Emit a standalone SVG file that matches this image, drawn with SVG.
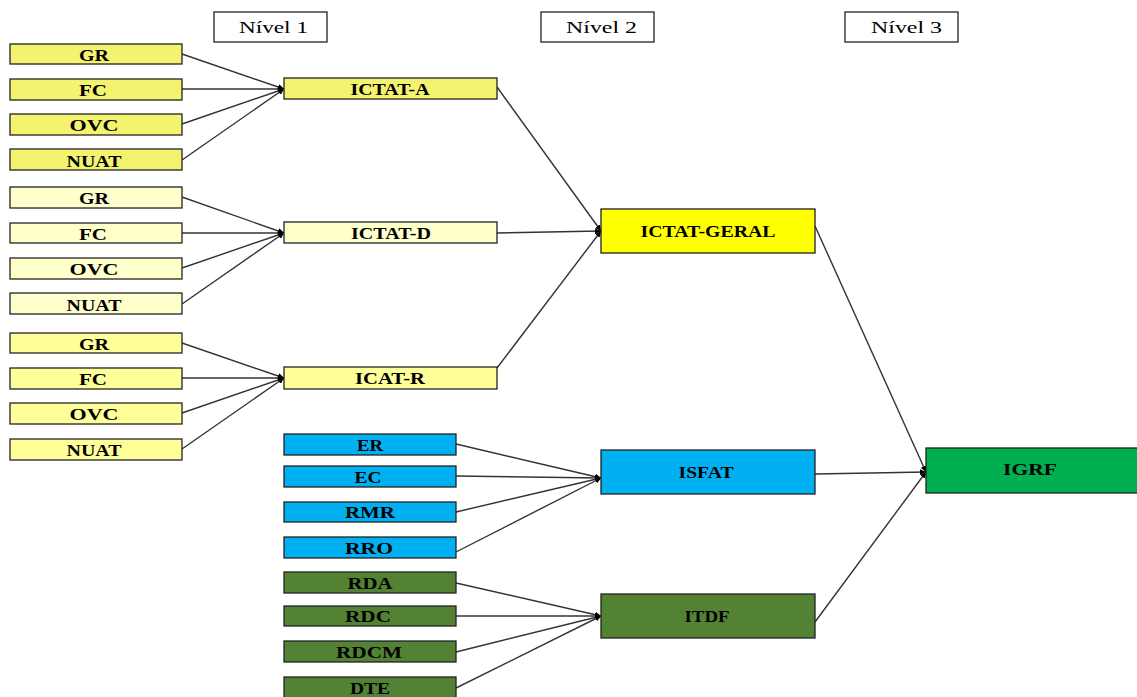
<svg xmlns="http://www.w3.org/2000/svg" width="1137" height="697" viewBox="0 0 1137 697">
<style>
rect{stroke:#222;stroke-width:1.3}
.lvl{fill:#fff}
.lt{font-family:"Liberation Serif",serif;font-size:17px;fill:#000}
.t{font-family:"Liberation Serif",serif;font-weight:bold;font-size:17px;fill:#000;text-anchor:middle;dominant-baseline:central}
.y1{fill:#f3f36f}.y2{fill:#ffffcc}.y3{fill:#ffff99}.yg{fill:#ffff00}
.bl{fill:#00b0f0}.gd{fill:#548235}.gr{fill:#00b050}
#connectors path{fill:none;stroke:#333;stroke-width:1.4;marker-end:url(#a)}
</style>
<defs>
<marker id="a" viewBox="0 0 6 6" refX="6" refY="3" markerWidth="6" markerHeight="6" markerUnits="userSpaceOnUse" orient="auto"><path d="M0,0L6,3L0,6z" fill="#000"/></marker>
</defs>
<g id="connectors">
<path d="M182,54L284,89"/><path d="M182,89L284,89"/><path d="M182,124L284,89"/><path d="M182,160L284,89"/>
<path d="M182,197L284,233"/><path d="M182,233L284,233"/><path d="M182,268L284,233"/><path d="M182,304L284,233"/>
<path d="M182,343L284,378"/><path d="M182,378L284,378"/><path d="M182,413L284,378"/><path d="M182,449L284,378"/>
<path d="M497,87L601,231"/><path d="M497,233L601,231"/><path d="M497,368L601,231"/>
<path d="M456,444L601,478"/><path d="M456,476L601,478"/><path d="M456,512L601,478"/><path d="M456,552L601,478"/>
<path d="M456,583L601,616"/><path d="M456,616L601,616"/><path d="M456,652L601,616"/><path d="M456,688L601,616"/>
<path d="M815,226L926,472"/><path d="M815,474L926,472"/><path d="M815,622L926,472"/>
</g>
<g id="nivel1"><rect class="lvl" x="214" y="12" width="113" height="30"/><text class="lt" x="239" y="33" textLength="69" lengthAdjust="spacingAndGlyphs">Nível 1</text></g>
<g id="nivel2"><rect class="lvl" x="541" y="12" width="113" height="30"/><text class="lt" x="566" y="33" textLength="71" lengthAdjust="spacingAndGlyphs">Nível 2</text></g>
<g id="nivel3"><rect class="lvl" x="845" y="12" width="113" height="30"/><text class="lt" x="871" y="33" textLength="71" lengthAdjust="spacingAndGlyphs">Nível 3</text></g>

<g id="a-gr"><rect class="y1" x="10" y="44" width="172" height="20"/><text class="t" x="94" y="55" textLength="30" lengthAdjust="spacingAndGlyphs">GR</text></g>
<g id="a-fc"><rect class="y1" x="10" y="79" width="172" height="21"/><text class="t" x="93" y="90" textLength="28" lengthAdjust="spacingAndGlyphs">FC</text></g>
<g id="a-ovc"><rect class="y1" x="10" y="114" width="172" height="21"/><text class="t" x="94" y="125" textLength="49" lengthAdjust="spacingAndGlyphs">OVC</text></g>
<g id="a-nuat"><rect class="y1" x="10" y="149" width="172" height="21"/><text class="t" x="94" y="161" textLength="55" lengthAdjust="spacingAndGlyphs">NUAT</text></g>

<g id="d-gr"><rect class="y2" x="10" y="187" width="172" height="21"/><text class="t" x="94" y="198" textLength="30" lengthAdjust="spacingAndGlyphs">GR</text></g>
<g id="d-fc"><rect class="y2" x="10" y="223" width="172" height="20"/><text class="t" x="93" y="234" textLength="28" lengthAdjust="spacingAndGlyphs">FC</text></g>
<g id="d-ovc"><rect class="y2" x="10" y="258" width="172" height="21"/><text class="t" x="94" y="269" textLength="49" lengthAdjust="spacingAndGlyphs">OVC</text></g>
<g id="d-nuat"><rect class="y2" x="10" y="293" width="172" height="21"/><text class="t" x="94" y="305" textLength="55" lengthAdjust="spacingAndGlyphs">NUAT</text></g>

<g id="r-gr"><rect class="y3" x="10" y="333" width="172" height="20"/><text class="t" x="94" y="344" textLength="30" lengthAdjust="spacingAndGlyphs">GR</text></g>
<g id="r-fc"><rect class="y3" x="10" y="368" width="172" height="21"/><text class="t" x="93" y="379" textLength="28" lengthAdjust="spacingAndGlyphs">FC</text></g>
<g id="r-ovc"><rect class="y3" x="10" y="403" width="172" height="21"/><text class="t" x="94" y="414" textLength="49" lengthAdjust="spacingAndGlyphs">OVC</text></g>
<g id="r-nuat"><rect class="y3" x="10" y="439" width="172" height="21"/><text class="t" x="94" y="450" textLength="55" lengthAdjust="spacingAndGlyphs">NUAT</text></g>

<g id="ictat-a"><rect class="y1" x="284" y="78" width="213" height="21"/><text class="t" x="390" y="89" textLength="79" lengthAdjust="spacingAndGlyphs">ICTAT-A</text></g>
<g id="ictat-d"><rect class="y2" x="284" y="222" width="213" height="21"/><text class="t" x="391" y="233" textLength="80" lengthAdjust="spacingAndGlyphs">ICTAT-D</text></g>
<g id="icat-r"><rect class="y3" x="284" y="367" width="213" height="22"/><text class="t" x="390" y="378" textLength="70" lengthAdjust="spacingAndGlyphs">ICAT-R</text></g>

<g id="er"><rect class="bl" x="284" y="434" width="172" height="21"/><text class="t" x="370" y="445" textLength="26" lengthAdjust="spacingAndGlyphs">ER</text></g>
<g id="ec"><rect class="bl" x="284" y="466" width="172" height="21"/><text class="t" x="368" y="477" textLength="27" lengthAdjust="spacingAndGlyphs">EC</text></g>
<g id="rmr"><rect class="bl" x="284" y="502" width="172" height="20"/><text class="t" x="370" y="512" textLength="50" lengthAdjust="spacingAndGlyphs">RMR</text></g>
<g id="rro"><rect class="bl" x="284" y="537" width="172" height="21"/><text class="t" x="369" y="548" textLength="48" lengthAdjust="spacingAndGlyphs">RRO</text></g>

<g id="rda"><rect class="gd" x="284" y="572" width="172" height="21"/><text class="t" x="370" y="583" textLength="45" lengthAdjust="spacingAndGlyphs">RDA</text></g>
<g id="rdc"><rect class="gd" x="284" y="606" width="172" height="20"/><text class="t" x="368" y="616" textLength="46" lengthAdjust="spacingAndGlyphs">RDC</text></g>
<g id="rdcm"><rect class="gd" x="284" y="641" width="172" height="21"/><text class="t" x="369" y="652" textLength="66" lengthAdjust="spacingAndGlyphs">RDCM</text></g>
<g id="dte"><rect class="gd" x="284" y="677" width="172" height="21"/><text class="t" x="370" y="688" textLength="40" lengthAdjust="spacingAndGlyphs">DTE</text></g>

<g id="ictat-geral"><rect class="yg" x="601" y="209" width="214" height="44"/><text class="t" x="708" y="231" textLength="135" lengthAdjust="spacingAndGlyphs">ICTAT-GERAL</text></g>
<g id="isfat"><rect class="bl" x="601" y="450" width="214" height="44"/><text class="t" x="706" y="472" textLength="55" lengthAdjust="spacingAndGlyphs">ISFAT</text></g>
<g id="itdf"><rect class="gd" x="601" y="594" width="214" height="44"/><text class="t" x="707" y="616" textLength="45" lengthAdjust="spacingAndGlyphs">ITDF</text></g>
<g id="igrf"><rect class="gr" x="926" y="448" width="213" height="45"/><text class="t" x="1030" y="469" textLength="54" lengthAdjust="spacingAndGlyphs">IGRF</text></g>
</svg>
